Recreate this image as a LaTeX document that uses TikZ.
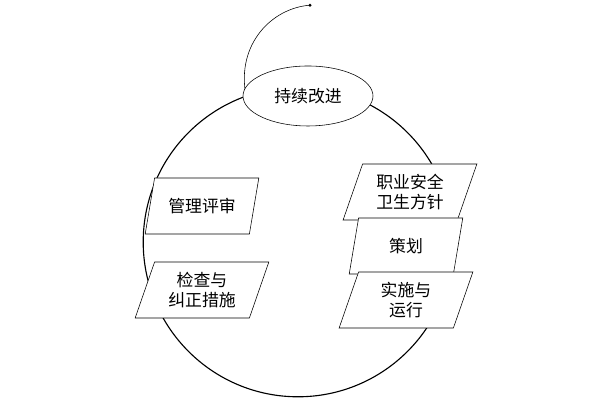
\documentclass[tikz,border=0pt]{standalone}
\usepackage{fontspec}
\setmainfont{Noto Sans CJK SC}
\usetikzlibrary{shapes.geometric}
\begin{document}
\begin{tikzpicture}[
  para/.style={trapezium,trapezium left angle=63,trapezium right angle=117,draw,fill=white,
    trapezium stretches body,text width=2.3cm,minimum height=1.4cm,align=center,font=\large,inner sep=1pt}]
\useasboundingbox (0,0) rectangle (15,10);

\draw[line width=0.8pt] (7.45,3.95) circle (3.87);
\draw[thin] (6.15,7.6) .. controls (5.9,8.9) and (6.8,9.8) .. (7.75,9.87);
\fill (7.75,9.87) circle (1.2pt);

\node[ellipse,draw,fill=white,minimum width=3.25cm,minimum height=1.5cm,font=\large] (improve) at (7.7,7.6) {持续改进};

\node[para] (review) at (5.05,4.85) {管理评审};
\node[para] (check) at (5.05,2.75) {检查与\\纠正措施};

\node[para] (policy) at (10.25,5.2) {职业安全\\卫生方针};
\node[para] (plan) at (10.15,3.85) {策划};
\node[para] (run) at (10.15,2.5) {实施与\\运行};

\end{tikzpicture}
\end{document}
